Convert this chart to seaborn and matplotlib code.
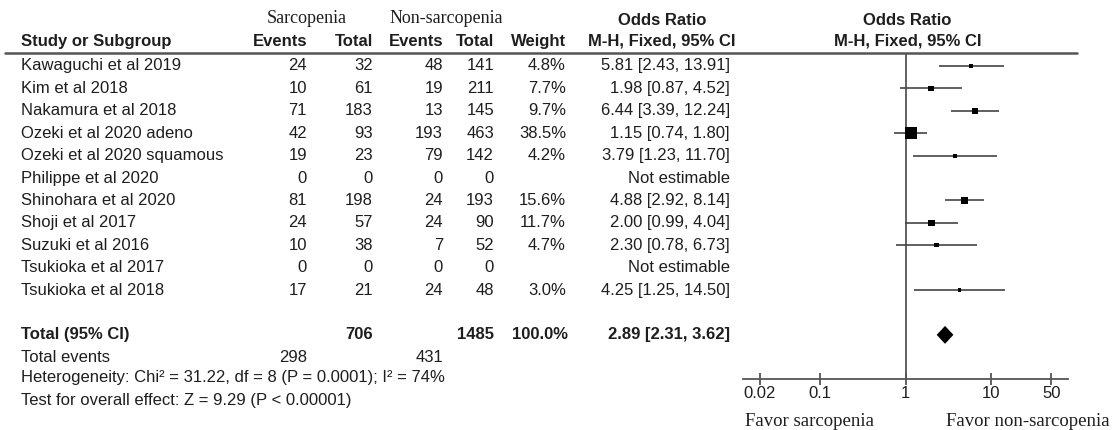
import numpy as np
import pandas as pd
import matplotlib
matplotlib.use('Agg')
import matplotlib.pyplot as plt
import matplotlib.transforms as mtransforms
from matplotlib.lines import Line2D
import seaborn as sns

# %%
# Data
studies = ['Kawaguchi et al 2019', 'Kim et al 2018', 'Nakamura et al 2018',
           'Ozeki et al 2020 adeno', 'Ozeki et al 2020 squamous', 'Philippe et al 2020',
           'Shinohara et al 2020', 'Shoji et al 2017', 'Suzuki et al 2016',
           'Tsukioka et al 2017', 'Tsukioka et al 2018']
sar_events = [24, 10, 71, 42, 19, 0, 81, 24, 10, 0, 17]
sar_total = [32, 61, 183, 93, 23, 0, 198, 57, 38, 0, 21]
non_events = [48, 19, 13, 193, 79, 0, 24, 24, 7, 0, 24]
non_total = [141, 211, 145, 463, 142, 0, 193, 90, 52, 0, 48]
weights = [4.8, 7.7, 9.7, 38.5, 4.2, np.nan, 15.6, 11.7, 4.7, np.nan, 3.0]
odds = [5.81, 1.98, 6.44, 1.15, 3.79, np.nan, 4.88, 2.00, 2.30, np.nan, 4.25]
ci_low = [2.43, 0.87, 3.39, 0.74, 1.23, np.nan, 2.92, 0.99, 0.78, np.nan, 1.25]
ci_high = [13.91, 4.52, 12.24, 1.80, 11.70, np.nan, 8.14, 4.04, 6.73, np.nan, 14.50]

total_sar, total_non = 706, 1485
events_sar, events_non = 298, 431
pooled_or, pooled_low, pooled_high = 2.89, 2.31, 3.62
heterogeneity = 'Heterogeneity: Chi² = 31.22, df = 8 (P = 0.0001); I² = 74%'
overall = 'Test for overall effect: Z = 9.29 (P < 0.00001)'

x_ticks = [0.02, 0.1, 1, 10, 50]
x_ticklabels = ['0.02', '0.1', '1', '10', '50']

df = pd.DataFrame({'study': studies, 'ev1': sar_events, 'tot1': sar_total,
                   'ev2': non_events, 'tot2': non_total, 'weight': weights,
                   'or': odds, 'lo': ci_low, 'hi': ci_high})
df['row'] = np.arange(len(df))
total_row = len(df) + 1

# %%
sns.set_style('white')
plt.rcParams['font.family'] = ['Liberation Sans', 'DejaVu Sans']
SERIF = ['Liberation Serif', 'DejaVu Serif']
TXT = '#1e1e1e'
LINE = '#555555'
FS = 12

W, H = 1113, 430
fig = plt.figure(figsize=(W / 100, H / 100), dpi=100)
fig.patch.set_facecolor('white')
ax = fig.add_axes([743 / W, 1 - 379 / H, (1068 - 743) / W, (379 - 53) / H])
ax.set_facecolor('white')

# forest part
valid = df.dropna(subset=['or'])
ax.hlines(valid['row'], valid['lo'], valid['hi'], color='#444444', lw=1.2, zorder=2)
side_px = 12 * np.sqrt(valid['weight'] / 38.5)
sns.scatterplot(data=valid, x='or', y='row', marker='s', s=(side_px * 0.72) ** 2,
                color='black', linewidth=0, legend=False, ax=ax, zorder=3)
ax.fill([pooled_low, pooled_or, pooled_high, pooled_or],
        [total_row, total_row - 0.4, total_row, total_row + 0.4],
        color='black', lw=0, zorder=3)
ax.axvline(1, color=LINE, lw=1.3, zorder=1)

ax.set_xscale('log')
ax.set_xlim(0.0127, 78.6)
ax.set_ylim(13.97, -0.58)
ax.set_xticks(x_ticks)
ax.set_xticklabels(x_ticklabels)
ax.minorticks_off()
ax.set_yticks([])
ax.set_xlabel('')
ax.set_ylabel('')
for s in ['left', 'right', 'top']:
    ax.spines[s].set_visible(False)
ax.spines['bottom'].set_color(LINE)
ax.spines['bottom'].set_linewidth(1.3)
ax.tick_params(axis='x', bottom=True, direction='inout', length=9, width=1.3, color=LINE,
               labelsize=FS, labelcolor=TXT, pad=0.5)

# header line
fig.add_artist(Line2D([5 / W, 1077 / W], [1 - 53 / H] * 2, transform=fig.transFigure,
                      color=LINE, lw=1.8))

# %%
# table text
tr = mtransforms.blended_transform_factory(fig.transFigure, ax.transData)
cols = {'ev1': 307, 'tot1': 373, 'ev2': 443, 'tot2': 494, 'weight': 566, 'ci': 730}

def put(xpx, y, s, ha='right', bold=False, family=None, size=FS):
    ax.text(xpx / W, y, s, transform=tr, ha=ha, va='center', color=TXT, fontsize=size,
            fontweight='bold' if bold else 'normal', clip_on=False,
            **({'family': family} if family else {}))

# headers
put(307, -2.14, 'Sarcopenia', ha='center', family=SERIF, size=13)
put(446, -2.14, 'Non-sarcopenia', ha='center', family=SERIF, size=13)
put(662, -2.05, 'Odds Ratio', ha='center', bold=True)
put(907, -2.05, 'Odds Ratio', ha='center', bold=True)
put(21, -1.1, 'Study or Subgroup', ha='left', bold=True)
put(cols['ev1'], -1.1, 'Events', bold=True)
put(cols['tot1'], -1.1, 'Total', bold=True)
put(cols['ev2'], -1.1, 'Events', bold=True)
put(cols['tot2'], -1.1, 'Total', bold=True)
put(cols['weight'], -1.1, 'Weight', bold=True)
put(662, -1.1, 'M-H, Fixed, 95% CI', ha='center', bold=True)
put(908, -1.1, 'M-H, Fixed, 95% CI', ha='center', bold=True)

for _, r in df.iterrows():
    y = r['row']
    put(21, y, r['study'], ha='left')
    put(cols['ev1'], y, f"{r['ev1']}")
    put(cols['tot1'], y, f"{r['tot1']}")
    put(cols['ev2'], y, f"{r['ev2']}")
    put(cols['tot2'], y, f"{r['tot2']}")
    if np.isnan(r['or']):
        put(cols['ci'], y, 'Not estimable')
    else:
        put(cols['weight'], y, f"{r['weight']:.1f}%")
        put(cols['ci'], y, f"{r['or']:.2f} [{r['lo']:.2f}, {r['hi']:.2f}]")

# totals
put(21, total_row, 'Total (95% CI)', ha='left', bold=True)
put(cols['tot1'], total_row, f'{total_sar}', bold=True)
put(cols['tot2'], total_row, f'{total_non}', bold=True)
put(cols['weight'] + 2, total_row, '100.0%', bold=True)
put(cols['ci'], total_row, f'{pooled_or:.2f} [{pooled_low:.2f}, {pooled_high:.2f}]', bold=True)
put(21, 13.0, 'Total events', ha='left')
put(cols['ev1'], 13.0, f'{events_sar}')
put(cols['ev2'], 13.0, f'{events_non}')
put(21, 13.92, heterogeneity, ha='left')
put(21, 14.95, overall, ha='left')

# favours labels
fig.text(745 / W, 1 - 421 / H, 'Favor sarcopenia', ha='left', va='center',
         family=SERIF, fontsize=13.5, color=TXT)
fig.text(1110 / W, 1 - 421 / H, 'Favor non-sarcopenia', ha='right', va='center',
         family=SERIF, fontsize=13.5, color=TXT)

fig.savefig('out.png', dpi=100, facecolor='white')
